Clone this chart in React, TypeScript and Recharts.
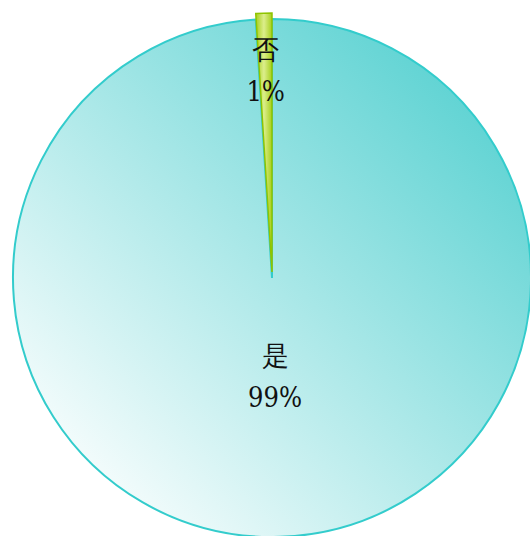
import { PieChart, Pie, Cell } from 'recharts'

const labels = ['是', '否']
const values = [99, 1]

const data = labels.map((name, i) => ({ name, value: values[i] }))

const RADIAN = Math.PI / 180

function makeLabel(showIndex: number, ratio: number) {
  return (props: any) => {
    const { cx, cy, midAngle, outerRadius, index, percent } = props
    if (index !== showIndex) return null
    const r = outerRadius * ratio
    const x = cx + r * Math.cos(-midAngle * RADIAN)
    const y = cy + r * Math.sin(-midAngle * RADIAN)
    return (
      <text
        x={x}
        y={y}
        textAnchor="middle"
        fill="#111"
        fontSize={27}
        fontFamily="'DejaVu Serif Condensed', 'Liberation Serif', serif"
      >
        <tspan x={x} y={y - 11}>{labels[index]}</tspan>
        <tspan x={x} y={y + 31}>{`${Math.round(percent * 100)}%`}</tspan>
      </text>
    )
  }
}

export default function App() {
  const cx = 272
  const cy = 278
  const R = 259
  return (
    <div
      style={{
        position: 'fixed',
        top: 0,
        left: 0,
        width: 530,
        height: 536,
        background: '#fff',
        overflow: 'hidden',
      }}
    >
      <PieChart width={530} height={536} margin={{ top: 0, right: 0, bottom: 0, left: 0 }}>
        <defs>
          <linearGradient id="yesGrad" x1="0" y1="1" x2="1" y2="0">
            <stop offset="8%" stopColor="#ffffff" />
            <stop offset="100%" stopColor="#45cccc" />
          </linearGradient>
          <linearGradient id="noGrad" x1="0" y1="0" x2="1" y2="0">
            <stop offset="0%" stopColor="#a6cf1c" />
            <stop offset="50%" stopColor="#dcee8c" />
            <stop offset="100%" stopColor="#a6cf1c" />
          </linearGradient>
        </defs>
        <Pie
          data={data}
          dataKey="value"
          nameKey="name"
          cx={cx}
          cy={cy}
          outerRadius={R}
          startAngle={90}
          endAngle={-270}
          labelLine={false}
          label={makeLabel(0, 0.38)}
          isAnimationActive={false}
        >
          <Cell fill="url(#yesGrad)" stroke="#33cccc" strokeWidth={2} />
          <Cell fill="none" stroke="none" />
        </Pie>
        <Pie
          data={data}
          dataKey="value"
          nameKey="name"
          cx={cx}
          cy={cy - 6}
          outerRadius={R}
          startAngle={90}
          endAngle={-270}
          labelLine={false}
          label={makeLabel(1, 0.78)}
          isAnimationActive={false}
        >
          <Cell fill="none" stroke="none" />
          <Cell fill="url(#noGrad)" stroke="#8fc400" strokeWidth={1.5} />
        </Pie>
      </PieChart>
    </div>
  )
}
